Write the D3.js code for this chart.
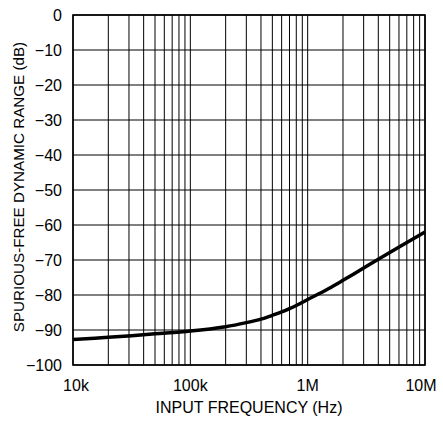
<!DOCTYPE html>
<html>
<head>
<meta charset="utf-8">
<script src="https://cdn.jsdelivr.net/npm/d3@7"></script>
<style>
  body { margin: 0; background: #fff; }
  text { font-family: "Liberation Sans", Arial, sans-serif; fill: #000; }
</style>
</head>
<body>
<div id="chart"></div>
<script>
// input frequency (Hz) and SFDR (dB)
var freqs = [1e4, 2e4, 5e4, 1e5, 2e5, 3e5, 4e5, 5e5, 6e5, 7e5, 8e5, 1e6, 1.5e6, 2e6, 3e6, 4e6, 1e7];
var sfdr = [-92.7, -92.1, -91.1, -90.3, -89.05, -87.9, -86.9, -85.8, -84.85, -83.9, -83.0, -81.3, -78.2, -75.8, -72.3, -69.8, -62];

var yTicks = [0, -10, -20, -30, -40, -50, -60, -70, -80, -90, -100];
var xTicks = [1e4, 1e5, 1e6, 1e7];
var xTickLabels = ["10k", "100k", "1M", "10M"];

var width = 443, height = 423;
var mLeft = 73, mRight = 425, mTop = 15, mBottom = 365;

var svg = d3.select("#chart").append("svg")
    .attr("width", width)
    .attr("height", height);

var x = d3.scaleLog().domain([1e4, 1e7]).range([mLeft, mRight]);
var y = d3.scaleLinear().domain([-100, 0]).range([mBottom, mTop]);

// grid
var grid = svg.append("g");
grid.selectAll("line.vx")
    .data(x.ticks())
    .enter()
    .append("line")
    .attr("x1", d => x(d)).attr("x2", d => x(d))
    .attr("y1", mTop).attr("y2", mBottom)
    .attr("stroke", "#000")
    .attr("stroke-width", 1);

grid.selectAll("line.hy")
    .data(yTicks)
    .enter()
    .append("line")
    .attr("x1", mLeft).attr("x2", mRight)
    .attr("y1", d => y(d)).attr("y2", d => y(d))
    .attr("stroke", "#000")
    .attr("stroke-width", 1);

svg.append("rect")
    .attr("x", mLeft).attr("y", mTop)
    .attr("width", mRight - mLeft).attr("height", mBottom - mTop)
    .attr("fill", "none")
    .attr("stroke", "#000")
    .attr("stroke-width", 1.6);

// curve
var line = d3.line()
    .x((d, i) => x(freqs[i]))
    .y(d => y(d))
    .curve(d3.curveCatmullRom.alpha(0.5));

svg.append("path")
    .datum(sfdr)
    .attr("d", line)
    .attr("fill", "none")
    .attr("stroke", "#000")
    .attr("stroke-width", 3.5)
    .attr("stroke-linejoin", "round");

// y tick labels
svg.append("g")
    .selectAll("text")
    .data(yTicks)
    .enter()
    .append("text")
    .attr("x", 62)
    .attr("y", d => y(d) + 5.5)
    .attr("text-anchor", "end")
    .style("font-size", "16px")
    .text(d => d < 0 ? "\u2212" + Math.abs(d) : d);

// x tick labels (end labels pulled inside)
var xShift = [3, 0, 0, -4];
svg.append("g")
    .selectAll("text")
    .data(xTicks)
    .enter()
    .append("text")
    .attr("x", (d, i) => x(d) + xShift[i])
    .attr("y", 391)
    .attr("text-anchor", "middle")
    .style("font-size", "16px")
    .text((d, i) => xTickLabels[i]);

svg.append("text")
    .attr("x", (mLeft + mRight) / 2)
    .attr("y", 413)
    .attr("text-anchor", "middle")
    .style("font-size", "16px")
    .text("INPUT FREQUENCY (Hz)");

svg.append("text")
    .attr("transform", "translate(24," + 187 + ") rotate(-90)")
    .attr("text-anchor", "middle")
    .style("font-size", "15.2px")
    .text("SPURIOUS-FREE DYNAMIC RANGE (dB)");
</script>
</body>
</html>
